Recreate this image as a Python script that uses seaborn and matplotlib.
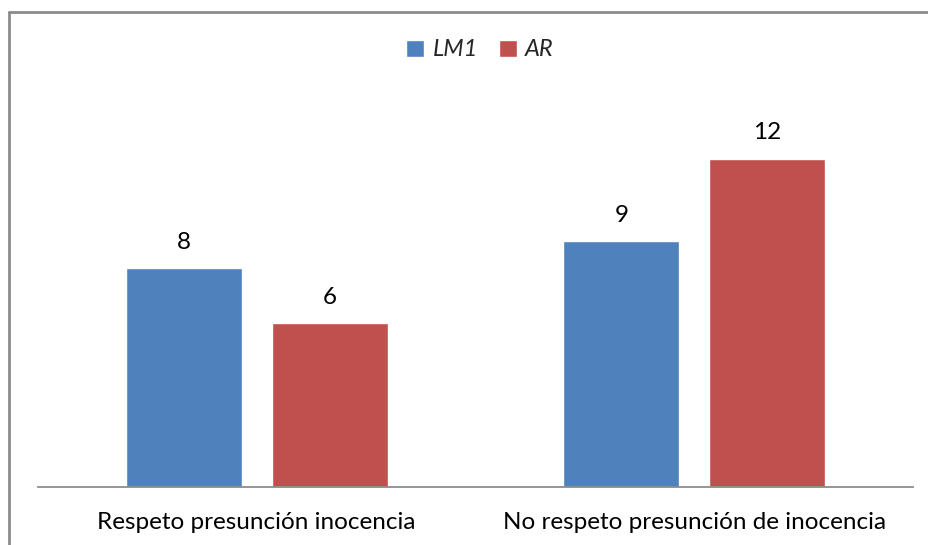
import matplotlib
matplotlib.use("Agg")
import matplotlib.pyplot as plt
import seaborn as sns
import pandas as pd
from matplotlib.patches import Patch
from matplotlib.lines import Line2D

categories = ["Respeto presunción inocencia", "No respeto presunción de inocencia"]
series_names = ["LM1", "AR"]
lm1_values = [8, 9]
ar_values = [6, 12]
colors = ["#4F81BD", "#C0504D"]

df = pd.DataFrame({
    "cat": categories * 2,
    "serie": [series_names[0]] * 2 + [series_names[1]] * 2,
    "val": lm1_values + ar_values,
})

sns.set_theme(style="white")
plt.rcParams["font.family"] = ["Lato", "DejaVu Sans"]

fig = plt.figure(figsize=(9.29, 5.45), dpi=100)
W, H = 929, 545
ax = fig.add_axes([38 / W, (H - 487) / H, (913 - 38) / W, (487 - 104) / H])

sns.barplot(data=df, x="cat", y="val", hue="serie", palette=colors,
            width=0.667, gap=0.205, ax=ax, legend=False, saturation=1)

for c in ax.containers:
    ax.bar_label(c, fmt="%d", padding=11, fontsize=17.5, color="black")

ax.set_ylim(0, 14)
ax.set_xlim(-0.5, 1.5)
ax.set_xlabel("")
ax.set_ylabel("")
ax.set_yticks([])
ax.tick_params(axis="x", length=0, labelsize=17.5, pad=18, colors="black")
for s in ["left", "right", "top"]:
    ax.spines[s].set_visible(False)
ax.spines["bottom"].set_color("#8c8c8c")
ax.spines["bottom"].set_linewidth(1.3)

handles = [Patch(facecolor=colors[0], label=series_names[0]),
           Patch(facecolor=colors[1], label=series_names[1])]
leg = fig.legend(handles=handles, loc="center", bbox_to_anchor=(480 / W, 1 - 50 / H),
                 ncol=2, frameon=False, prop={"style": "italic", "size": 17},
                 handlelength=0.75, handleheight=0.75, handletextpad=0.35, columnspacing=0.9)

# outer border (top and left)
fig.add_artist(Line2D([8.5 / W, 1], [1 - 11.5 / H, 1 - 11.5 / H], color="#8c8c8c", lw=2))
fig.add_artist(Line2D([8.5 / W, 8.5 / W], [0, 1 - 11.5 / H], color="#8c8c8c", lw=2))

fig.savefig("out.png", dpi=100, facecolor="white")
